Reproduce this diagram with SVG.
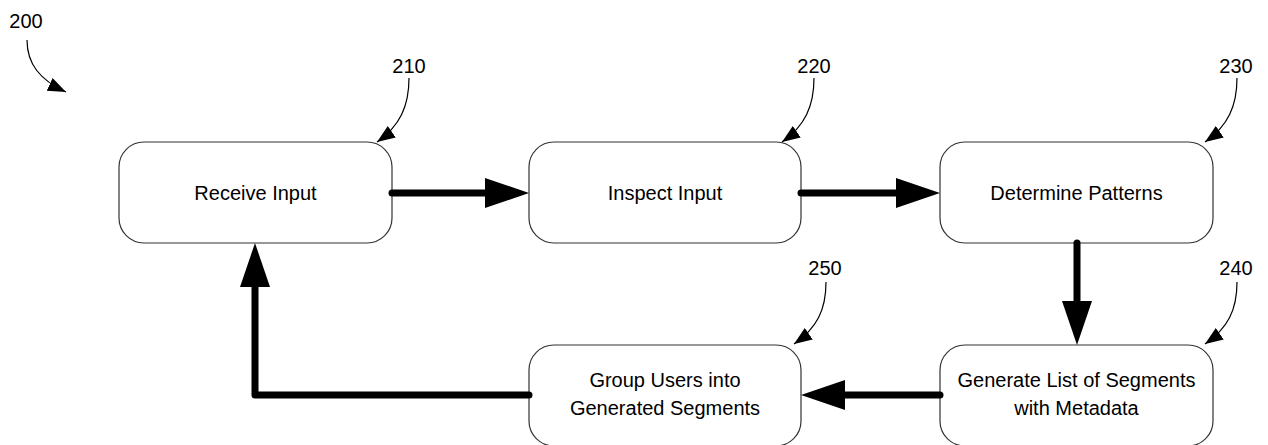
<svg xmlns="http://www.w3.org/2000/svg" width="1268" height="445" viewBox="0 0 1268 445">
  <defs>
    <style>
      .box { fill: #ffffff; stroke: #333333; stroke-width: 1.2; }
      .label { font-family: "Liberation Sans", Arial, sans-serif; font-size: 20px; fill: #000000; text-anchor: middle; }
      .flow { fill: none; stroke: #000000; stroke-width: 7; stroke-linecap: round; stroke-linejoin: round; }
      .ref { fill: none; stroke: #000000; stroke-width: 1.2; }
    </style>
    <!-- heavy arrowhead: its base sits at the end of the flow line -->
    <marker id="bigHead" markerUnits="userSpaceOnUse" markerWidth="46" markerHeight="32" refX="0" refY="15" orient="auto" viewBox="0 0 46 32">
      <path d="M0,0 L44,15 L0,30 Z" fill="#000000"/>
    </marker>
    <marker id="smallHead" markerUnits="userSpaceOnUse" markerWidth="20" markerHeight="16" refX="18" refY="7" orient="auto" viewBox="0 0 20 16">
      <path d="M0,0 L18,7 L0,14 Z" fill="#000000"/>
    </marker>
  </defs>

  <!-- figure number with its pointer -->
  <g id="fig-200">
    <text class="label" x="26" y="28">200</text>
    <path class="ref" d="M27,40 C27,64 40,80 66,92" marker-end="url(#smallHead)"/>
  </g>

  <!-- step boxes -->
  <g id="node-210">
    <rect class="box" x="119" y="142" width="273" height="101" rx="25" ry="25"/>
    <text class="label" x="255.5" y="200">Receive Input</text>
    <text class="label" x="409" y="73">210</text>
    <path class="ref" d="M409,78 C409,106 400,126 377,142" marker-end="url(#smallHead)"/>
  </g>

  <g id="node-220">
    <rect class="box" x="529" y="142" width="272" height="101" rx="25" ry="25"/>
    <text class="label" x="665" y="200">Inspect Input</text>
    <text class="label" x="814" y="73">220</text>
    <path class="ref" d="M814,78 C814,106 805,126 782,142" marker-end="url(#smallHead)"/>
  </g>

  <g id="node-230">
    <rect class="box" x="940" y="142" width="273" height="101" rx="25" ry="25"/>
    <text class="label" x="1076.5" y="200">Determine Patterns</text>
    <text class="label" x="1236" y="73">230</text>
    <path class="ref" d="M1237,78 C1237,106 1228,126 1205,142" marker-end="url(#smallHead)"/>
  </g>

  <g id="node-240">
    <rect class="box" x="940" y="345" width="273" height="101" rx="25" ry="25"/>
    <text class="label" x="1076.5" y="387">Generate List of Segments</text>
    <text class="label" x="1076.5" y="415">with Metadata</text>
    <text class="label" x="1236" y="275">240</text>
    <path class="ref" d="M1237,282 C1237,310 1228,328 1205,344" marker-end="url(#smallHead)"/>
  </g>

  <g id="node-250">
    <rect class="box" x="529" y="345" width="272" height="101" rx="25" ry="25"/>
    <text class="label" x="665" y="387">Group Users into</text>
    <text class="label" x="665" y="415">Generated Segments</text>
    <text class="label" x="825" y="275">250</text>
    <path class="ref" d="M826,282 C826,310 817,328 794,344" marker-end="url(#smallHead)"/>
  </g>

  <!-- flow connectors -->
  <g id="connectors">
    <path class="flow" d="M392,193 L485,193" marker-end="url(#bigHead)"/>
    <path class="flow" d="M801,193 L896,193" marker-end="url(#bigHead)"/>
    <path class="flow" d="M1077,243 L1077,301" marker-end="url(#bigHead)"/>
    <path class="flow" d="M940,395 L845,395" marker-end="url(#bigHead)"/>
    <path class="flow" d="M529,395 L255,395 L255,287" marker-end="url(#bigHead)"/>
  </g>
</svg>
